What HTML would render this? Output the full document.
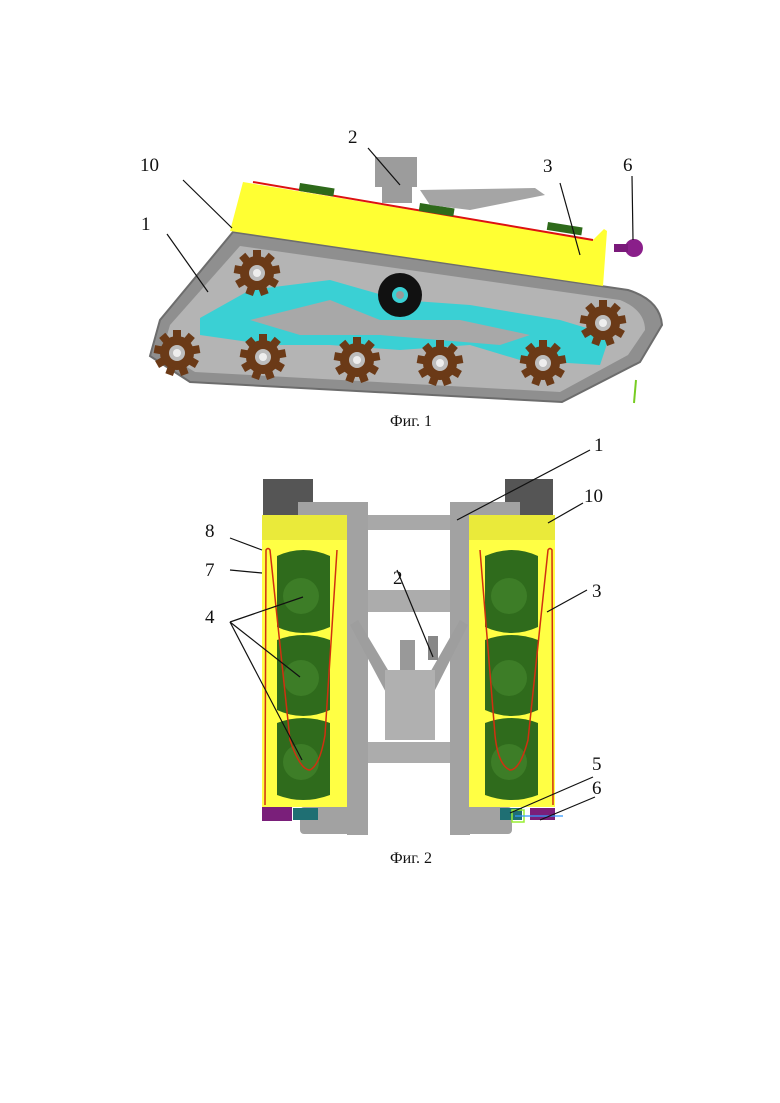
<!DOCTYPE html>
<html><head><meta charset="utf-8"><style>
html,body{margin:0;padding:0;background:#fff;}
svg{display:block;}
text{font-family:"Liberation Serif",serif;fill:#111;}
</style></head><body>
<svg width="780" height="1103" viewBox="0 0 780 1103" xmlns="http://www.w3.org/2000/svg">
<defs>
<g id="gear">
<circle r="17" fill="#6b3a17"/>
<g fill="#6b3a17">
<rect x="-4" y="-23" width="8" height="8"/>
<rect x="-4" y="-23" width="8" height="8" transform="rotate(40)"/>
<rect x="-4" y="-23" width="8" height="8" transform="rotate(80)"/>
<rect x="-4" y="-23" width="8" height="8" transform="rotate(120)"/>
<rect x="-4" y="-23" width="8" height="8" transform="rotate(160)"/>
<rect x="-4" y="-23" width="8" height="8" transform="rotate(200)"/>
<rect x="-4" y="-23" width="8" height="8" transform="rotate(240)"/>
<rect x="-4" y="-23" width="8" height="8" transform="rotate(280)"/>
<rect x="-4" y="-23" width="8" height="8" transform="rotate(320)"/>
</g>
<circle r="8" fill="#bdbdbd"/><circle r="4" fill="#eee"/>
</g>
<g id="tank">
<circle r="40" fill="#2f6b1c"/>
<circle cx="-4" cy="-4" r="22" fill="#3a7a24"/>
<circle cx="-2" cy="-2" r="12" fill="#2f6b1c"/>
</g>
<clipPath id="cl1"><rect x="277" y="552" width="53" height="81" rx="6"/></clipPath>
</defs>

<!-- FIG 1 -->
<!-- track -->
<path d="M233,232 L628,290 Q660,300 662,325 L640,362 L562,402 L190,382 L150,356 L160,320 Z" fill="#8f8f8f" stroke="#6d6d6d" stroke-width="2"/>
<path d="M240,246 L620,300 Q645,310 645,330 L628,355 L560,392 L195,372 L162,352 L170,325 Z" fill="#b4b4b4"/>
<!-- cyan frame -->
<path d="M200,318 L250,290 L330,280 L400,300 L470,305 L560,320 L610,335 L600,365 L520,360 L470,345 L400,350 L330,345 L270,345 L200,335 Z" fill="#3ad0d4"/>
<path d="M250,320 L330,300 L380,320 L460,320 L530,335 L500,345 L380,335 L300,335 Z" fill="#a8a8a8"/>
<!-- yellow body -->
<path d="M243,182 L593,240 L604,229 L607,231 L603,286 L230,231 Z" fill="#ffff33"/>
<line x1="253" y1="182" x2="593" y2="240" stroke="#d11" stroke-width="2"/>
<rect x="300" y="183" width="35" height="8" fill="#2e6a1a" transform="rotate(9 300 183)"/>
<rect x="420" y="203" width="35" height="8" fill="#2e6a1a" transform="rotate(9 420 203)"/>
<rect x="548" y="222" width="35" height="8" fill="#2e6a1a" transform="rotate(9 548 222)"/>
<!-- turret -->
<rect x="375" y="157" width="42" height="30" fill="#9c9c9c"/>
<rect x="382" y="185" width="30" height="18" fill="#9c9c9c"/>
<path d="M420,190 L535,188 L545,195 L470,210 L430,205 Z" fill="#a5a5a5"/>
<!-- purple 6 -->
<circle cx="634" cy="248" r="9" fill="#8a1f8a"/><rect x="614" y="244" width="14" height="8" fill="#7a1a7a"/>
<!-- wheels -->
<use href="#gear" x="257" y="273"/>
<use href="#gear" x="177" y="353"/>
<use href="#gear" x="263" y="357"/>
<use href="#gear" x="357" y="360"/>
<use href="#gear" x="440" y="363"/>
<use href="#gear" x="543" y="363"/>
<use href="#gear" x="603" y="323"/>
<circle cx="400" cy="295" r="22" fill="#111"/><circle cx="400" cy="295" r="8" fill="#3ad0d4"/><circle cx="400" cy="295" r="4" fill="#999"/>
<line x1="636" y1="380" x2="634" y2="403" stroke="#7c2" stroke-width="2"/>
<!-- leaders fig1 -->
<g stroke="#111" stroke-width="1.2">
<line x1="368" y1="148" x2="400" y2="185"/>
<line x1="183" y1="180" x2="232" y2="228"/>
<line x1="167" y1="234" x2="208" y2="292"/>
<line x1="560" y1="183" x2="580" y2="255"/>
<line x1="632" y1="176" x2="633" y2="240"/>
</g>
<g font-size="19">
<text x="348" y="143">2</text>
<text x="140" y="171">10</text>
<text x="141" y="230">1</text>
<text x="543" y="172">3</text>
<text x="623" y="171">6</text>
</g>
<text x="390" y="426" font-size="16">Фиг. 1</text>

<!-- FIG 2 -->
<rect x="263" y="479" width="50" height="36" fill="#555"/>
<rect x="505" y="479" width="48" height="36" fill="#555"/>
<!-- frame -->
<rect x="298" y="502" width="70" height="14" fill="#a2a2a2"/>
<rect x="347" y="502" width="21" height="333" fill="#a2a2a2"/>
<rect x="300" y="807" width="68" height="27" fill="#a2a2a2" rx="4"/>
<rect x="450" y="502" width="70" height="14" fill="#a2a2a2"/>
<rect x="450" y="502" width="20" height="333" fill="#a2a2a2"/>
<rect x="450" y="807" width="62" height="27" fill="#a2a2a2" rx="4"/>
<rect x="368" y="515" width="82" height="15" fill="#a8a8a8"/>
<rect x="368" y="590" width="82" height="22" fill="#acacac"/>
<rect x="368" y="742" width="82" height="21" fill="#acacac"/>
<path d="M350,625 L390,700 L400,720 L420,720 L430,700 L468,625 L460,620 L420,690 L400,690 L358,620 Z" fill="#9e9e9e"/>
<rect x="385" y="670" width="50" height="70" fill="#b0b0b0"/>
<rect x="400" y="640" width="15" height="30" fill="#999"/><rect x="428" y="636" width="10" height="24" fill="#888"/>
<!-- yellow -->
<rect x="262" y="515" width="85" height="292" fill="#ffff44"/>
<rect x="469" y="515" width="86" height="292" fill="#ffff44"/>
<rect x="262" y="515" width="85" height="25" fill="#eaea3a"/>
<rect x="469" y="515" width="86" height="25" fill="#eaea3a"/>
<!-- tanks -->
<g fill="#2f6b1c">
<path d="M277,556 Q303,544 330,556 L330,627 Q303,639 277,627 Z"/>
<path d="M277,640 Q303,630 330,640 L330,710 Q303,722 277,710 Z"/>
<path d="M277,723 Q303,713 330,723 L330,795 Q303,805 277,795 Z"/>
<path d="M485,556 Q512,544 538,556 L538,627 Q512,639 485,627 Z"/>
<path d="M485,640 Q512,630 538,640 L538,710 Q512,722 485,710 Z"/>
<path d="M485,723 Q512,713 538,723 L538,795 Q512,805 485,795 Z"/>
</g>
<g fill="#3d7d27">
<circle cx="301" cy="596" r="18"/><circle cx="301" cy="678" r="18"/><circle cx="301" cy="762" r="18"/>
<circle cx="509" cy="596" r="18"/><circle cx="509" cy="678" r="18"/><circle cx="509" cy="762" r="18"/>
</g>
<!-- red lines -->
<g stroke="#d03010" stroke-width="1.5" fill="none">
<path d="M265,805 L266,550 Q268,547 270,550 L290,740 Q300,770 310,770 Q320,765 325,735 L337,550"/>
<path d="M553,805 L552,550 Q550,547 548,550 L528,740 Q520,770 510,770 Q498,765 495,735 L480,550"/>
</g>
<!-- bottom blocks -->
<rect x="262" y="807" width="30" height="14" fill="#7a1f7a"/>
<rect x="293" y="808" width="25" height="12" fill="#1f6f73"/>
<rect x="500" y="808" width="22" height="12" fill="#1f6f73"/>
<rect x="530" y="808" width="25" height="12" fill="#7a1f7a"/>
<rect x="512" y="810" width="12" height="12" fill="none" stroke="#9e3" stroke-width="1.5"/>
<line x1="515" y1="816" x2="563" y2="816" stroke="#39f" stroke-width="1.2"/>
<!-- leaders fig2 -->
<g stroke="#111" stroke-width="1.2">
<line x1="590" y1="450" x2="457" y2="520"/>
<line x1="583" y1="503" x2="548" y2="523"/>
<line x1="230" y1="538" x2="262" y2="550"/>
<line x1="230" y1="570" x2="262" y2="573"/>
<line x1="230" y1="622" x2="303" y2="597"/>
<line x1="230" y1="622" x2="300" y2="677"/>
<line x1="230" y1="622" x2="302" y2="760"/>
<line x1="397" y1="570" x2="433" y2="657"/>
<line x1="587" y1="590" x2="547" y2="612"/>
<line x1="593" y1="777" x2="510" y2="813"/>
<line x1="595" y1="797" x2="540" y2="820"/>
</g>
<g font-size="19">
<text x="594" y="451">1</text>
<text x="584" y="502">10</text>
<text x="205" y="537">8</text>
<text x="205" y="576">7</text>
<text x="205" y="623">4</text>
<text x="393" y="584">2</text>
<text x="592" y="597">3</text>
<text x="592" y="770">5</text>
<text x="592" y="794">6</text>
</g>
<text x="390" y="863" font-size="16">Фиг. 2</text>
</svg>
</body></html>
